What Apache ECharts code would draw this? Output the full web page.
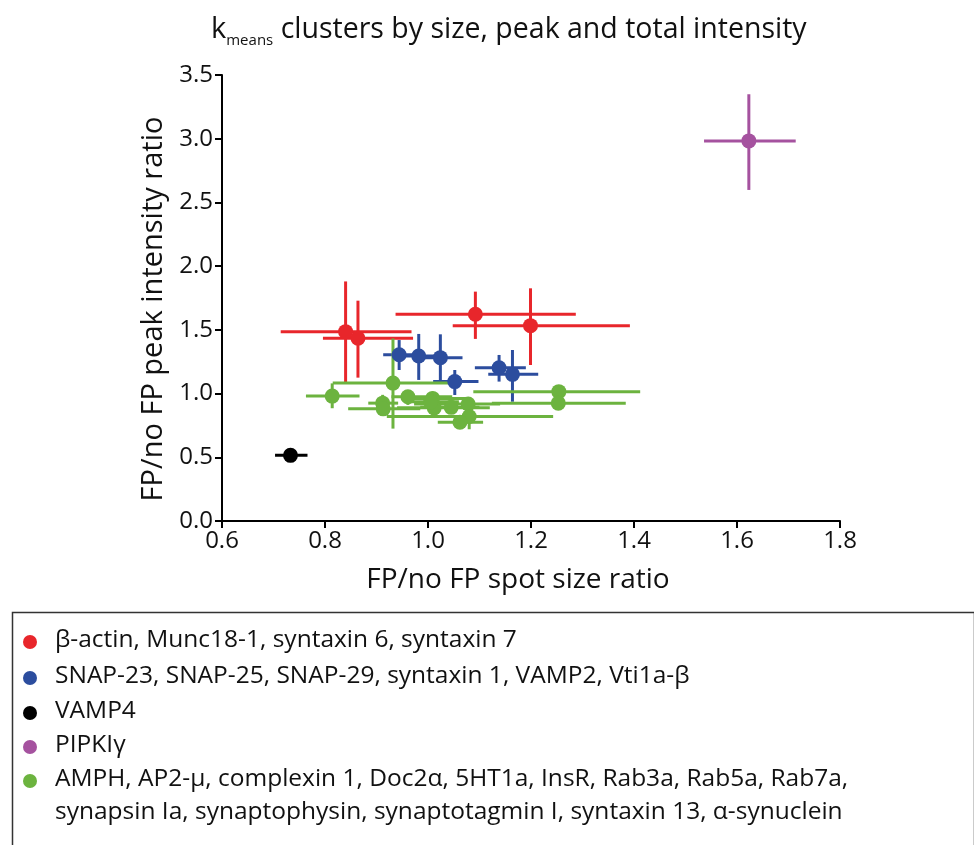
<!DOCTYPE html>
<html>
<head>
<meta charset="utf-8">
<script src="https://cdn.jsdelivr.net/npm/echarts@6/dist/echarts.min.js"></script>
<style>
  html, body { margin: 0; padding: 0; background: #fff; }
  #chart { width: 974px; height: 845px; }
</style>
</head>
<body>
<div id="chart"></div>
<script>
// Each row: [spot size ratio, peak intensity ratio, x low, x high, y low, y high]
const redCluster = [
  [0.840, 1.486, 0.714, 0.968, 1.086, 1.880],
  [0.864, 1.434, 0.796, 0.971, 1.125, 1.729],
  [1.092, 1.622, 0.937, 1.287, 1.429, 1.800],
  [1.199, 1.533, 1.048, 1.392, 1.224, 1.826]
];
const blueCluster = [
  [0.944, 1.305, 0.913, 0.980, 1.185, 1.420],
  [0.982, 1.295, 0.945, 1.030, 1.107, 1.468],
  [1.024, 1.282, 0.985, 1.067, 1.094, 1.465],
  [1.052, 1.094, 1.010, 1.098, 0.989, 1.185],
  [1.138, 1.203, 1.091, 1.190, 1.094, 1.303],
  [1.164, 1.151, 1.117, 1.214, 0.936, 1.342]
];
const blackCluster = [
  [0.733, 0.515, 0.703, 0.766, 0.485, 0.545]
];
const purpleCluster = [
  [1.623, 2.983, 1.536, 1.714, 2.598, 3.349]
];
const greenCluster = [
  [0.814, 0.980, 0.763, 0.867, 0.885, 1.080],
  [0.932, 1.082, 0.815, 1.056, 0.725, 1.432],
  [0.912, 0.925, 0.884, 0.942, 0.860, 0.990],
  [0.913, 0.880, 0.845, 0.985, 0.830, 0.930],
  [0.961, 0.975, 0.929, 1.047, 0.911, 1.028],
  [1.009, 0.962, 0.950, 1.080, 0.915, 1.015],
  [1.012, 0.888, 0.940, 1.120, 0.840, 0.930],
  [1.045, 0.892, 0.985, 1.100, 0.855, 0.930],
  [1.078, 0.918, 0.973, 1.140, 0.858, 0.965],
  [1.080, 0.820, 0.920, 1.243, 0.720, 0.870],
  [1.062, 0.775, 1.019, 1.107, 0.745, 0.805],
  [1.254, 1.015, 1.088, 1.412, 0.976, 1.060],
  [1.253, 0.925, 1.124, 1.384, 0.880, 0.975],
  [1.005, 0.935, 0.955, 1.060, 0.900, 0.970]
];

const clusterNames = [
  'β-actin, Munc18-1, syntaxin 6, syntaxin 7',
  'SNAP-23, SNAP-25, SNAP-29, syntaxin 1, VAMP2, Vti1a-β',
  'VAMP4',
  'PIPKIγ',
  'AMPH, AP2-μ, complexin 1, Doc2α, 5HT1a, InsR, Rab3a, Rab5a, Rab7a,\nsynapsin Ia, synaptophysin, synaptotagmin I, syntaxin 13, α-synuclein'
];
const clusterColors = ['#e8262b', '#2c4d9e', '#000000', '#a5529f', '#6cb33f'];
const clusterData = [redCluster, blueCluster, blackCluster, purpleCluster, greenCluster];

const xTicks = { min: 0.6, max: 1.8, interval: 0.2 };
const yTicks = { min: 0.0, max: 3.5, interval: 0.5 };

const FONT = '"Open Sans", "Noto Sans", sans-serif';

// error bars (horizontal + vertical) drawn through the axis scales
function errorBars(color) {
  return function (params, api) {
    const x = api.value(0), y = api.value(1);
    const xl = api.value(2), xh = api.value(3);
    const yl = api.value(4), yh = api.value(5);
    const a = api.coord([xl, y]), b = api.coord([xh, y]);
    const c = api.coord([x, yl]), d = api.coord([x, yh]);
    const st = { stroke: color, lineWidth: 3 };
    return {
      type: 'group',
      children: [
        { type: 'line', shape: { x1: a[0], y1: a[1], x2: b[0], y2: b[1] }, style: st },
        { type: 'line', shape: { x1: c[0], y1: c[1], x2: d[0], y2: d[1] }, style: st }
      ]
    };
  };
}

const series = [];
clusterData.forEach(function (rows, i) {
  series.push({
    type: 'custom',
    renderItem: errorBars(clusterColors[i]),
    data: rows,
    encode: { x: 0, y: 1 },
    silent: true,
    z: 2
  });
});
clusterData.forEach(function (rows, i) {
  series.push({
    type: 'scatter',
    name: clusterNames[i],
    data: rows.map(function (r) { return [r[0], r[1]]; }),
    symbol: 'circle',
    symbolSize: 15,
    itemStyle: { color: clusterColors[i], opacity: 1 },
    z: 3
  });
});

// legend panel
const legendGraphics = [{
  type: 'rect',
  left: 10, top: 610,
  shape: { width: 962, height: 260 },
  style: { fill: 'none', stroke: '#333', lineWidth: 1.5 }
}];
const legendRowTop = [642, 678, 713, 747, 781];
clusterNames.forEach(function (name, i) {
  legendGraphics.push({
    type: 'circle',
    shape: { cx: 30, cy: legendRowTop[i], r: 7 },
    style: { fill: clusterColors[i] }
  });
  legendGraphics.push({
    type: 'text',
    left: 55, top: legendRowTop[i] - 18,
    style: { text: name, font: '24.5px ' + FONT, fill: '#111', lineHeight: 33 }
  });
});

const chart = echarts.init(document.getElementById('chart'));
chart.setOption({
  backgroundColor: '#fff',
  animation: false,
  title: {
    text: '{k|k}{sub|means}{t| clusters by size, peak and total intensity}',
    left: 206,
    top: 6,
    textStyle: {
      fontWeight: 'normal',
      rich: {
        k: { fontFamily: FONT, fontSize: 29, fontWeight: 'normal', color: '#111' },
        sub: { fontFamily: FONT, fontSize: 15, fontWeight: 'normal', color: '#111', padding: [22, 0, 0, 0] },
        t: { fontFamily: FONT, fontSize: 28.5, fontWeight: 'normal', color: '#111' }
      }
    }
  },
  grid: { left: 222, right: 134, top: 75, bottom: 324, containLabel: false },
  xAxis: {
    type: 'value',
    min: xTicks.min, max: xTicks.max, interval: xTicks.interval,
    name: 'FP/no FP spot size ratio',
    nameLocation: 'middle',
    nameGap: 45,
    nameTextStyle: { fontFamily: FONT, fontSize: 28, color: '#111', padding: [0, 26, 0, 0] },
    axisLine: { lineStyle: { color: '#000', width: 2 } },
    axisTick: { length: 7, lineStyle: { color: '#000', width: 2 } },
    axisLabel: {
      fontFamily: FONT, fontSize: 24, color: '#111', margin: 8,
      formatter: function (v) { return v.toFixed(1); }
    },
    splitLine: { show: false }
  },
  yAxis: {
    type: 'value',
    min: yTicks.min, max: yTicks.max, interval: yTicks.interval,
    name: 'FP/no FP peak intensity ratio',
    nameLocation: 'middle',
    nameGap: 52,
    nameTextStyle: { fontFamily: FONT, fontSize: 29, color: '#111', padding: [0, 22, 0, 0] },
    axisLine: { show: true, lineStyle: { color: '#000', width: 2 } },
    axisTick: { show: true, length: 7, lineStyle: { color: '#000', width: 2 } },
    axisLabel: {
      fontFamily: FONT, fontSize: 24, color: '#111', margin: 9,
      formatter: function (v) { return v.toFixed(1); }
    },
    splitLine: { show: false }
  },
  series: series,
  graphic: legendGraphics
});
</script>
</body>
</html>
